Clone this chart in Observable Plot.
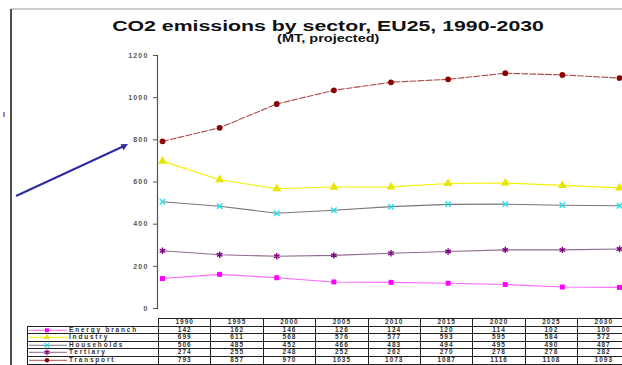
<!DOCTYPE html>
<html>
<head>
<meta charset="utf-8">
<script src="https://cdn.jsdelivr.net/npm/d3@7"></script>
<script src="https://cdn.jsdelivr.net/npm/@observablehq/plot@0.6"></script>
<style>
  body { margin: 0; background: #fff; font-family: "Liberation Sans", Arial, sans-serif; }
  #wrap { position: relative; width: 622px; height: 365px; overflow: hidden; background: #fff; }
  #wrap > * { position: absolute; }
  .title { left: 0; width: 657px; text-align: center; font-weight: bold; color: #111; white-space: nowrap; }
  .title span { display: inline-block; transform-origin: center; }
  #t1 { top: 19px; font-size: 14px; line-height: 14px; }
  #t1 span { transform: scaleX(1.52); }
  #t2 { top: 34px; font-size: 10px; line-height: 10px; }
  #t2 span { transform: scaleX(1.45); }
  .axis-y text { letter-spacing: 1.2px; }
  table.datatable { left: 27px; top: 318px; border-collapse: collapse; table-layout: fixed; width: 602.6px;
    font-size: 6.5px; font-weight: bold; color: #333; }
  table.datatable td { border: 1px solid #222; height: 6.6px; line-height: 6.6px; padding: 0; text-align: center;
    letter-spacing: 1px; white-space: nowrap; overflow: hidden; }
  table.datatable td.blank { border: none; }
  table.datatable td.lab { text-align: left; letter-spacing: 1.8px; }
  table.datatable td.lab svg { display: inline-block; vertical-align: top; margin-left: 1px; margin-right: 2px; }
</style>
</head>
<body>
<div id="wrap"></div>
<script>
// CO2 emissions by sector, EU25 (Mt), with projections to 2030
const years = [1990, 1995, 2000, 2005, 2010, 2015, 2020, 2025, 2030];
const sectors = ["Energy branch", "Industry", "Households", "Tertiary", "Transport"];
const energyBranch = [142, 162, 146, 126, 124, 120, 114, 102, 100];
const industry     = [699, 611, 568, 576, 577, 593, 595, 584, 572];
const households   = [506, 485, 452, 466, 483, 494, 495, 490, 487];
const tertiary     = [274, 255, 248, 252, 262, 270, 278, 278, 282];
const transport    = [793, 857, 970, 1035, 1073, 1087, 1116, 1108, 1093];
const yTicks = [0, 200, 400, 600, 800, 1000, 1200];

const seriesValues = [energyBranch, industry, households, tertiary, transport];

// line colour, marker colour and marker shape for each sector
const look = {
  "Energy branch": { line: "#ff66ff", mark: "#ff00ff", symbol: "square",   filled: true,  r: 2.8, d3sym: d3.symbolSquare },
  "Industry":      { line: "#f2f200", mark: "#e6e600", symbol: "triangle", filled: true,  r: 3.3, d3sym: d3.symbolTriangle },
  "Households":    { line: "#777777", mark: "#22e0f0", symbol: "times",    filled: false, r: 2.6, d3sym: d3.symbolTimes },
  "Tertiary":      { line: "#8f6a8f", mark: "#800080", symbol: "asterisk", filled: false, r: 3.0, d3sym: d3.symbolAsterisk },
  "Transport":     { line: "#b24a4a", mark: "#8b0000", symbol: "circle",   filled: true,  r: 2.9, d3sym: d3.symbolCircle }
};

const rows = sectors.flatMap((sector, i) =>
  years.map((year, j) => ({ sector, year, value: seriesValues[i][j] })));

const wrap = document.getElementById("wrap");

// decorations: page frame, pointer arrow
const deco = d3.create("svg").attr("width", 622).attr("height", 365).style("left", "0px").style("top", "0px");
deco.append("line").attr("x1", 11).attr("x2", 622).attr("y1", 9).attr("y2", 9).attr("stroke", "#999").attr("stroke-width", 1);
deco.append("line").attr("x1", 11).attr("x2", 11).attr("y1", 9).attr("y2", 365).attr("stroke", "#222").attr("stroke-width", 1.6);
deco.append("line").attr("x1", 4).attr("x2", 4).attr("y1", 112).attr("y2", 117).attr("stroke", "#3340a0").attr("stroke-width", 1.2);
deco.append("line").attr("x1", 16).attr("y1", 196).attr("x2", 123).attr("y2", 146.5)
  .attr("stroke", "#2c2ca0").attr("stroke-width", 2);
deco.append("path").attr("d", "M128,144 L120.5,144.2 L123.6,150.3 Z").attr("fill", "#2c2ca0");
wrap.append(deco.node());

const chart = Plot.plot({
  width: 622,
  height: 365,
  marginLeft: 157,
  marginRight: 3,
  marginTop: 55,
  marginBottom: 57,
  x: { type: "linear", domain: [1990, 2030], insetLeft: 5, axis: null },
  y: { domain: [0, 1200], axis: null },
  style: { background: "transparent", fontFamily: "Liberation Sans, Arial, sans-serif" },
  marks: [
    Plot.frame({ anchor: "left", stroke: "#555", strokeWidth: 1.2 }),
    Plot.axisY({ ticks: yTicks, tickFormat: d => String(d), tickSize: 4, tickPadding: 5, label: null,
      fontSize: 7, fontWeight: "bold", color: "#555", className: "axis-y" }),
    ...sectors.map(s => Plot.line(rows.filter(r => r.sector === s), {
      x: "year", y: "value", stroke: look[s].line, strokeWidth: 1.1,
      strokeDasharray: s === "Transport" ? "6,2" : null
    })),
    ...sectors.map(s => Plot.dot(rows.filter(r => r.sector === s), {
      x: "year", y: "value", symbol: look[s].symbol, r: look[s].r,
      fill: look[s].filled ? look[s].mark : "none",
      stroke: look[s].filled ? "none" : look[s].mark,
      strokeWidth: look[s].filled ? 0 : 1.4
    }))
  ]
});
chart.style.left = "0px";
chart.style.top = "0px";
wrap.append(chart);

// titles
const t1 = document.createElement("div");
t1.className = "title"; t1.id = "t1";
t1.innerHTML = "<span>CO2 emissions by sector, EU25, 1990-2030</span>";
wrap.append(t1);
const t2 = document.createElement("div");
t2.className = "title"; t2.id = "t2";
t2.innerHTML = "<span>(MT, projected)</span>";
wrap.append(t2);

// data table under the chart
function swatch(s) {
  const p = d3.symbol().type(look[s].d3sym).size(s === "Tertiary" ? 22 : 16)();
  const paint = look[s].filled
    ? `fill="${look[s].mark}"`
    : `fill="none" stroke="${look[s].mark}" stroke-width="1.2"`;
  return `<svg width="38" height="6.6"><line x1="0" x2="38" y1="3.3" y2="3.3" stroke="${look[s].line}" stroke-width="1"/>` +
    `<path transform="translate(18,3.3)" d="${p}" ${paint}/></svg>`;
}

const table = document.createElement("table");
table.className = "datatable";
const cg = document.createElement("colgroup");
cg.innerHTML = `<col style="width:131px">` + years.map(() => `<col style="width:52.4px">`).join("");
table.append(cg);
const head = table.insertRow();
head.insertCell().className = "blank";
years.forEach(y => { head.insertCell().textContent = y; });
sectors.forEach((s, i) => {
  const tr = table.insertRow();
  const lab = tr.insertCell();
  lab.className = "lab";
  lab.innerHTML = swatch(s) + `<span>${s}</span>`;
  seriesValues[i].forEach(v => { tr.insertCell().textContent = v; });
});
wrap.append(table);
</script>
</body>
</html>
